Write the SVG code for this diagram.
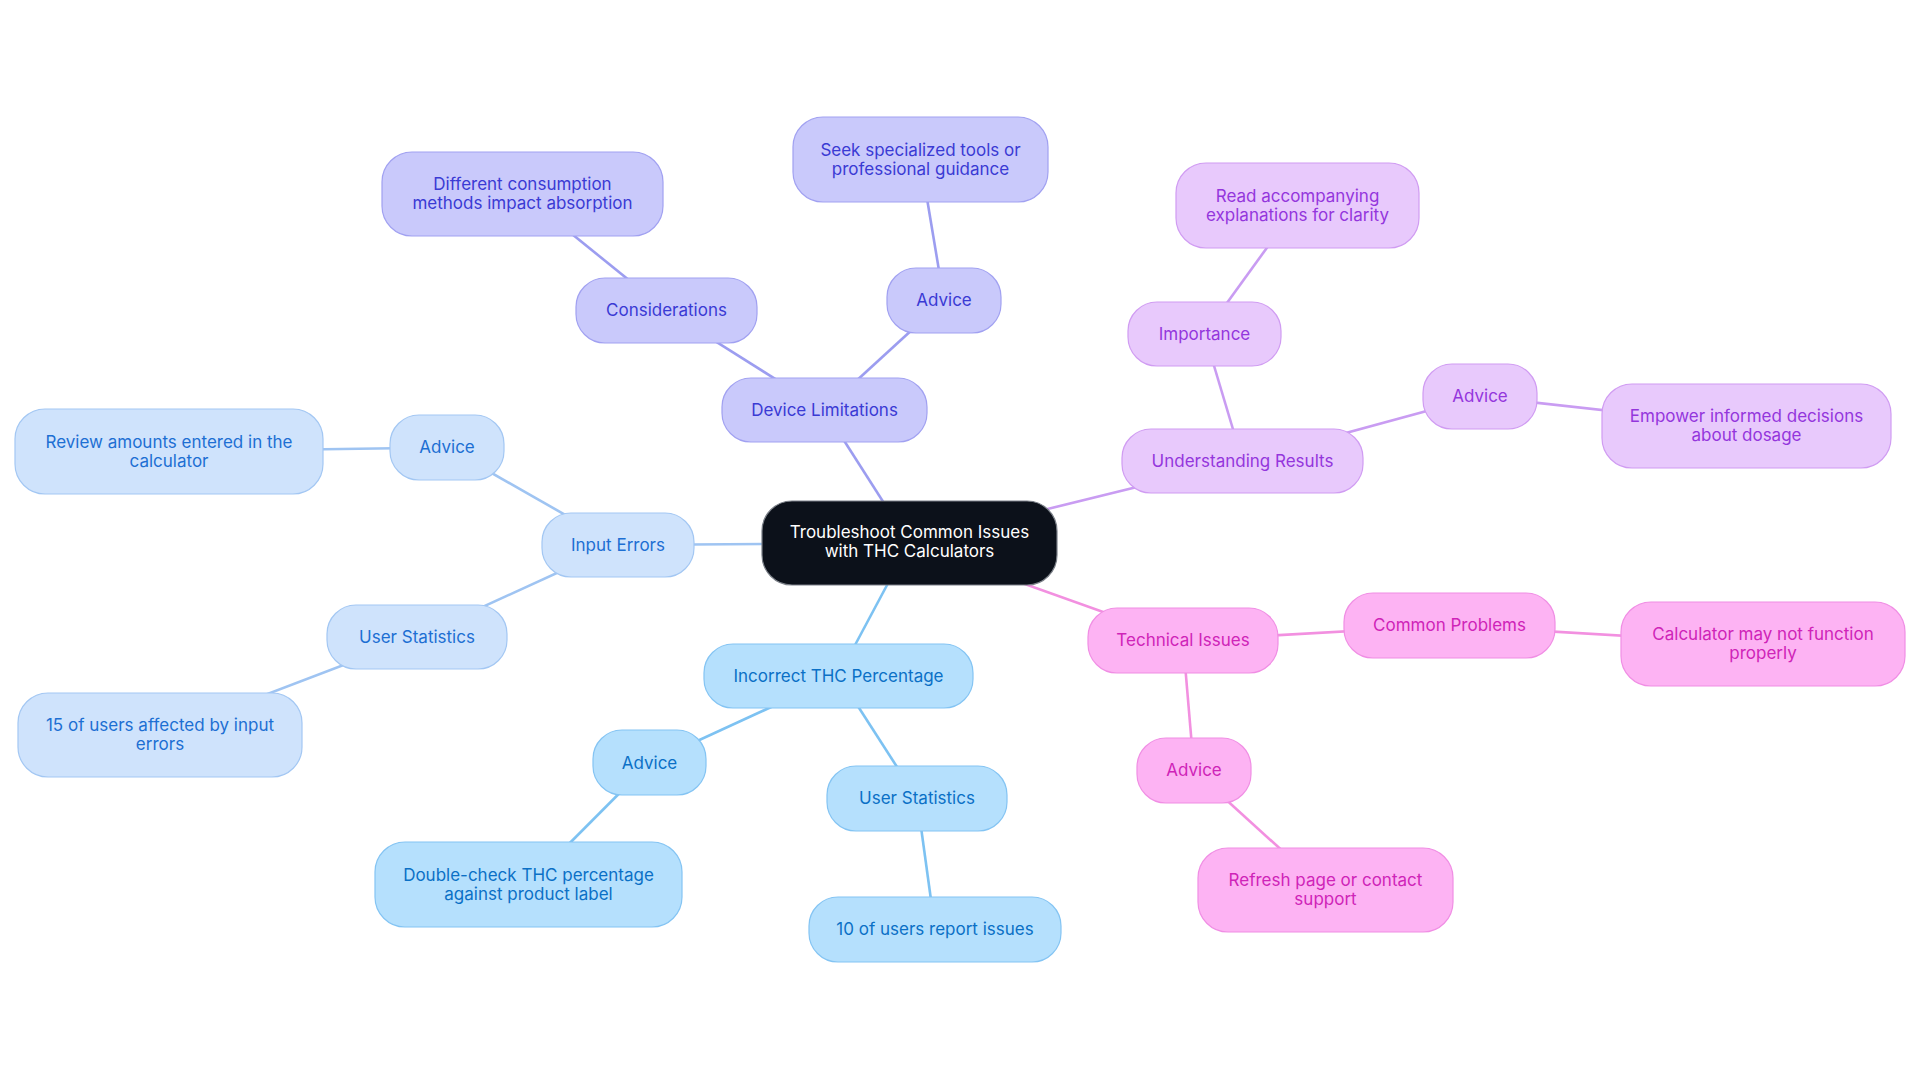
<svg xmlns="http://www.w3.org/2000/svg" width="1920" height="1083" viewBox="0 0 1920 1083">
<style>
  text { font-family: Inter, "Noto Sans", "Liberation Sans", sans-serif; font-size: 17px; text-anchor: middle; }
  .n rect { stroke-width: 1.2; }
  .root rect { fill: #0c111a; stroke: #7a7f87; }
  .root text { fill: #ffffff; }
  .ie rect { fill: #cfe3fc; stroke: #a3c7f3; }
  .ie text { fill: #1d6fd3; }
  .thc rect { fill: #b5e0fd; stroke: #84c4f3; }
  .thc text { fill: #0b70c6; }
  .dl rect { fill: #c9c9fb; stroke: #a1a1f1; }
  .dl text { fill: #3a3ad4; }
  .ur rect { fill: #e8c9fc; stroke: #d09cf2; }
  .ur text { fill: #9436dc; }
  .ti rect { fill: #fdb3f3; stroke: #f08ee4; }
  .ti text { fill: #cf24b8; }
  #connectors line { stroke-width: 2.6; fill: none; }
  .e-ie { stroke: #9fc4f2; }
  .e-thc { stroke: #7dc2f2; }
  .e-dl { stroke: #9c9df0; }
  .e-ur { stroke: #c99cf2; }
  .e-ti { stroke: #f290e0; }
</style>
<rect x="0" y="0" width="1920" height="1083" fill="#ffffff"/>
<g id="connectors">
  <line class="e-ie" x1="909.5" y1="543" x2="618" y2="545" stroke-width="3.2"/>
  <line class="e-ie" x1="618" y1="545" x2="447" y2="447.5"/>
  <line class="e-ie" x1="447" y1="447.5" x2="169" y2="451.5"/>
  <line class="e-ie" x1="618" y1="545" x2="417" y2="637"/>
  <line class="e-ie" x1="417" y1="637" x2="160" y2="735"/>
  <line class="e-thc" x1="909.5" y1="543" x2="838.5" y2="676"/>
  <line class="e-thc" x1="838.5" y1="676" x2="649.5" y2="763"/>
  <line class="e-thc" x1="649.5" y1="763" x2="528.5" y2="884.5"/>
  <line class="e-thc" x1="838.5" y1="676" x2="917" y2="798"/>
  <line class="e-thc" x1="917" y1="798" x2="935" y2="929"/>
  <line class="e-dl" x1="909.5" y1="543" x2="824.5" y2="410"/>
  <line class="e-dl" x1="824.5" y1="410" x2="666.5" y2="310.5"/>
  <line class="e-dl" x1="666.5" y1="310.5" x2="522.5" y2="194"/>
  <line class="e-dl" x1="824.5" y1="410" x2="944" y2="300.5"/>
  <line class="e-dl" x1="944" y1="300.5" x2="920.5" y2="159.5"/>
  <line class="e-ur" x1="909.5" y1="543" x2="1242.5" y2="461"/>
  <line class="e-ur" x1="1242.5" y1="461" x2="1204.5" y2="334"/>
  <line class="e-ur" x1="1204.5" y1="334" x2="1297.5" y2="205.5"/>
  <line class="e-ur" x1="1242.5" y1="461" x2="1480" y2="396.5"/>
  <line class="e-ur" x1="1480" y1="396.5" x2="1746.5" y2="426"/>
  <line class="e-ti" x1="909.5" y1="543" x2="1183" y2="640.5"/>
  <line class="e-ti" x1="1183" y1="640.5" x2="1449.5" y2="625.5"/>
  <line class="e-ti" x1="1449.5" y1="625.5" x2="1763" y2="644"/>
  <line class="e-ti" x1="1183" y1="640.5" x2="1194" y2="770.5"/>
  <line class="e-ti" x1="1194" y1="770.5" x2="1325.5" y2="890"/>
</g>

<g id="root" class="n root">
  <rect x="762" y="501" width="295" height="84" rx="30"/>
  <text x="909.5" y="538">Troubleshoot Common Issues</text>
  <text x="909.5" y="557">with THC Calculators</text>
</g>

<g id="input-errors" class="n ie">
  <rect x="542" y="513" width="152" height="64" rx="29"/>
  <text x="618" y="550.5">Input Errors</text>
</g>
<g id="ie-advice" class="n ie">
  <rect x="390" y="415" width="114" height="65" rx="29"/>
  <text x="447" y="453">Advice</text>
</g>
<g id="ie-advice-review" class="n ie">
  <rect x="15" y="409" width="308" height="85" rx="30"/>
  <text x="169" y="447.5">Review amounts entered in the</text>
  <text x="169" y="466.5">calculator</text>
</g>
<g id="ie-stats" class="n ie">
  <rect x="327" y="605" width="180" height="64" rx="29"/>
  <text x="417" y="642.5">User Statistics</text>
</g>
<g id="ie-stats-15" class="n ie">
  <rect x="18" y="693" width="284" height="84" rx="30"/>
  <text x="160" y="731">15 of users affected by input</text>
  <text x="160" y="750">errors</text>
</g>

<g id="incorrect-thc" class="n thc">
  <rect x="704" y="644" width="269" height="64" rx="29"/>
  <text x="838.5" y="681.5">Incorrect THC Percentage</text>
</g>
<g id="thc-advice" class="n thc">
  <rect x="593" y="730" width="113" height="65" rx="29"/>
  <text x="649.5" y="768.5">Advice</text>
</g>
<g id="thc-advice-double" class="n thc">
  <rect x="375" y="842" width="307" height="85" rx="30"/>
  <text x="528.5" y="880.5">Double-check THC percentage</text>
  <text x="528.5" y="899.5">against product label</text>
</g>
<g id="thc-stats" class="n thc">
  <rect x="827" y="766" width="180" height="65" rx="29"/>
  <text x="917" y="803.5">User Statistics</text>
</g>
<g id="thc-stats-10" class="n thc">
  <rect x="809" y="897" width="252" height="65" rx="29"/>
  <text x="935" y="934.5">10 of users report issues</text>
</g>

<g id="device-limitations" class="n dl">
  <rect x="722" y="378" width="205" height="64" rx="29"/>
  <text x="824.5" y="415.5">Device Limitations</text>
</g>
<g id="dl-considerations" class="n dl">
  <rect x="576" y="278" width="181" height="65" rx="29"/>
  <text x="666.5" y="316">Considerations</text>
</g>
<g id="dl-considerations-methods" class="n dl">
  <rect x="382" y="152" width="281" height="84" rx="30"/>
  <text x="522.5" y="190">Different consumption</text>
  <text x="522.5" y="209">methods impact absorption</text>
</g>
<g id="dl-advice" class="n dl">
  <rect x="887" y="268" width="114" height="65" rx="29"/>
  <text x="944" y="306">Advice</text>
</g>
<g id="dl-advice-seek" class="n dl">
  <rect x="793" y="117" width="255" height="85" rx="30"/>
  <text x="920.5" y="155.5">Seek specialized tools or</text>
  <text x="920.5" y="174.5">professional guidance</text>
</g>

<g id="understanding-results" class="n ur">
  <rect x="1122" y="429" width="241" height="64" rx="29"/>
  <text x="1242.5" y="466.5">Understanding Results</text>
</g>
<g id="ur-importance" class="n ur">
  <rect x="1128" y="302" width="153" height="64" rx="29"/>
  <text x="1204.5" y="339.5">Importance</text>
</g>
<g id="ur-importance-read" class="n ur">
  <rect x="1176" y="163" width="243" height="85" rx="30"/>
  <text x="1297.5" y="201.5">Read accompanying</text>
  <text x="1297.5" y="220.5">explanations for clarity</text>
</g>
<g id="ur-advice" class="n ur">
  <rect x="1423" y="364" width="114" height="65" rx="29"/>
  <text x="1480" y="402">Advice</text>
</g>
<g id="ur-advice-empower" class="n ur">
  <rect x="1602" y="384" width="289" height="84" rx="30"/>
  <text x="1746.5" y="422">Empower informed decisions</text>
  <text x="1746.5" y="441">about dosage</text>
</g>

<g id="technical-issues" class="n ti">
  <rect x="1088" y="608" width="190" height="65" rx="29"/>
  <text x="1183" y="646">Technical Issues</text>
</g>
<g id="ti-common" class="n ti">
  <rect x="1344" y="593" width="211" height="65" rx="29"/>
  <text x="1449.5" y="631">Common Problems</text>
</g>
<g id="ti-common-calculator" class="n ti">
  <rect x="1621" y="602" width="284" height="84" rx="30"/>
  <text x="1763" y="640">Calculator may not function</text>
  <text x="1763" y="659">properly</text>
</g>
<g id="ti-advice" class="n ti">
  <rect x="1137" y="738" width="114" height="65" rx="29"/>
  <text x="1194" y="776">Advice</text>
</g>
<g id="ti-advice-refresh" class="n ti">
  <rect x="1198" y="848" width="255" height="84" rx="30"/>
  <text x="1325.5" y="886">Refresh page or contact</text>
  <text x="1325.5" y="905">support</text>
</g>
</svg>
